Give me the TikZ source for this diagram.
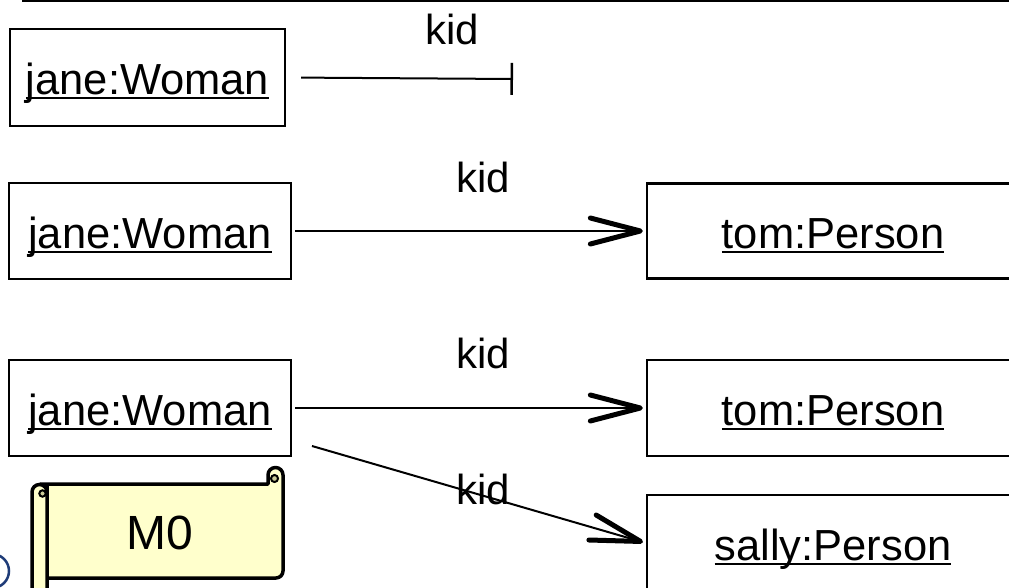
\documentclass[tikz,border=0pt]{standalone}
\usepackage{fontspec}
\setmainfont{Liberation Sans}
\usetikzlibrary{arrows.meta}
\newcommand\ulx[1]{\setbox0=\hbox{#1}\rlap{\rule[-5pt]{\wd0}{2pt}}\box0}
\definecolor{scrollfill}{HTML}{FFFFCC}
\definecolor{curlfill}{HTML}{CCCC99}
\definecolor{navyarc}{HTML}{1F3C78}
\tikzset{
  obj/.style={draw, line width=2.3pt, inner sep=0pt, minimum height=96pt,
    text height=34pt, text depth=0pt, font=\fontsize{43.5}{50}\selectfont},
  lbl/.style={anchor=base, inner sep=0pt, font=\fontsize{42}{50}\selectfont},
  link/.style={line width=2pt, shorten <=3pt},
  navarrow/.style={link, shorten >=3pt,
    -{Straight Barb[length=50pt, width=26pt, line width=5pt 0, round]}},
  barend/.style={link, -{Bar[width=32pt, line width=2.5pt 0]}},
  scrollpart/.style={draw=black, fill=scrollfill, line width=3.5pt, line join=round, line cap=round},
  curlpart/.style={draw=black, fill=curlfill, line width=2pt}
}
\begin{document}
\begin{tikzpicture}[x=1pt, y=-1pt]
\useasboundingbox (0,0) rectangle (1009,588);
\clip (0,0) rectangle (1009,588);

% top rule
\draw[line width=2pt] (22,1) -- (1009,1);

% objects
\node[obj, minimum width=275pt, minimum height=97pt] (w1) at (147.5,77.5) {\ulx{jane:Woman}};
\node[obj, minimum width=282pt] (w2) at (150,231) {\ulx{jane:Woman}};
\node[obj, minimum width=282pt] (w3) at (150,408) {\ulx{jane:Woman}};
\node[obj, minimum width=372pt, minimum height=95pt] (t1) at (833,231) {\ulx{tom:Person}};
\node[obj, minimum width=372pt] (t2) at (833,408) {\ulx{tom:Person}};
\node[obj, minimum width=372pt] (s) at (833,543) {\ulx{sally:Person}};

% connectors
\coordinate (e1) at (513,79);
\draw[barend, shorten <=15pt] (w1.east) -- (e1);
\node[lbl] (k1) at (452,45) {kid};

\draw[navarrow] (w2.east) -- (t1.west);
\node[lbl] (k2) at (483,193) {kid};

\draw[navarrow] (w3.east) -- (t2.west);
\node[lbl] (k3) at (483,368) {kid};

\coordinate (d0) at (312,446);
\node[lbl] (k4) at (483,504) {kid};
\draw[navarrow, shorten <=0pt] (d0) -- (s.west);

% partial circle at lower left
\draw[navyarc, line width=2.5pt] (-8,571) circle[radius=17];

% scroll banner
\path[scrollpart] (40,484) -- (268,484) -- (268,475)
  arc[start angle=180, end angle=360, radius=7.5]
  -- (283,571) arc[start angle=0, end angle=90, radius=7] -- (47,578) -- (47,484) -- cycle;
\path[curlpart] (274.5,478.5) circle[radius=3.5];
\path[scrollpart] (32,600) -- (32,492)
  arc[start angle=180, end angle=360, radius=7.5] -- (47,600);
\path[curlpart] (42.5,493.5) circle[radius=3.2];
\node[font=\fontsize{48}{56}\selectfont, inner sep=0pt] (m0) at (160,533) {M0};
\end{tikzpicture}
\end{document}
